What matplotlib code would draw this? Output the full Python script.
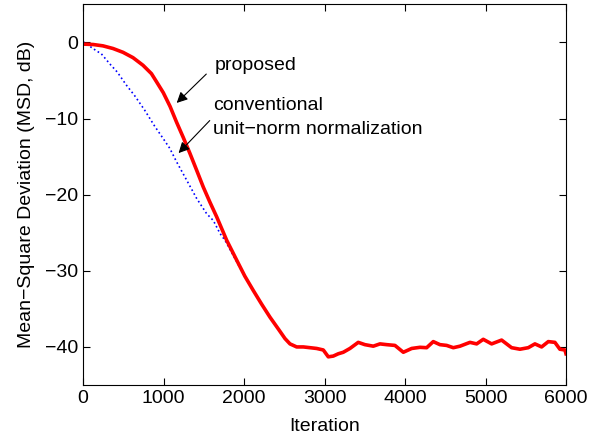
import matplotlib
matplotlib.use("Agg")
import matplotlib.pyplot as plt

plt.rcParams['font.family'] = ['Liberation Sans', 'DejaVu Sans']
plt.rcParams['axes.unicode_minus'] = True

# proposed method (red, thick)
prop_x = [0, 124, 248, 373, 497, 621, 745, 850, 915, 997, 1081, 1163, 1246,
          1329, 1412, 1494, 1577, 1660, 1785, 1909, 2010, 2116, 2220, 2323,
          2430, 2509, 2571, 2654, 2737, 2820, 2902, 2985, 3047, 3109, 3171,
          3233, 3316, 3419, 3502, 3606, 3689, 3772, 3875, 3979, 4083, 4186,
          4269, 4351, 4434, 4517, 4600, 4683, 4807, 4890, 4972, 5076, 5200,
          5324, 5428, 5531, 5614, 5697, 5780, 5862, 5924, 5987, 6000]
prop_y = [-0.22, -0.27, -0.45, -0.8, -1.3, -2.0, -3.0, -4.1, -5.2, -6.6,
          -8.4, -10.5, -12.5, -14.6, -16.8, -19.0, -21.0, -22.9, -26.0,
          -28.6, -30.7, -32.6, -34.4, -36.1, -37.7, -38.9, -39.6, -40.0,
          -40.0, -40.1, -40.2, -40.4, -41.3, -41.2, -40.9, -40.7, -40.2,
          -39.4, -39.7, -39.9, -39.6, -39.7, -39.8, -40.7, -40.2, -40.05,
          -40.1, -39.3, -39.7, -39.8, -40.1, -39.9, -39.4, -39.6, -39.0,
          -39.6, -39.1, -40.1, -40.3, -40.1, -39.6, -40.0, -39.3, -39.4,
          -40.3, -40.4, -40.9]

# conventional unit-norm normalization (blue, dotted)
conv_x = [0, 166, 228, 331, 426, 538, 642, 766, 890, 994, 1077, 1163, 1288,
          1412, 1536, 1619, 1702, 1764, 1950, 2100]
conv_y = [0.1, -1.1, -1.5, -2.8, -3.9, -5.6, -7.0, -8.9, -11.0, -12.6, -13.9,
          -15.7, -18.1, -20.5, -22.5, -23.4, -25.1, -26.0, -29.6, -32.3]

x_ticks = [0, 1000, 2000, 3000, 4000, 5000, 6000]
y_ticks = [0, -10, -20, -30, -40]

fig = plt.figure(figsize=(6.06, 4.37), dpi=100)
ax = fig.add_axes([0.137, 0.119, 0.797, 0.871])

ax.plot(conv_x, conv_y, color='blue', linestyle=':', linewidth=1.2)
ax.plot(prop_x, prop_y, color='red', linewidth=2.6)

ax.set_xlim(0, 6000)
ax.set_ylim(-45, 5)
ax.set_xticks(x_ticks)
ax.set_yticks(y_ticks)
ax.tick_params(direction='in', top=True, right=True, labelsize=14, length=5,
               width=0.8)
for s in ax.spines.values():
    s.set_linewidth(0.8)

ax.set_xlabel('Iteration', fontsize=14, labelpad=8)
ax.set_ylabel('Mean\u2212Square Deviation (MSD, dB)', fontsize=14, labelpad=7)

arrow = dict(arrowstyle='-|>', color='black', lw=0.8, mutation_scale=16)
ax.annotate('', xy=(1139, -8.2), xytext=(1556, -3.9), arrowprops=arrow)
ax.annotate('', xy=(1163, -14.8), xytext=(1598, -10.0), arrowprops=arrow)

ax.text(1640, -3.0, 'proposed', fontsize=14, ha='left', va='center')
ax.text(1615, -8.3, 'conventional', fontsize=14, ha='left', va='center')
ax.text(1615, -11.5, 'unit\u2212norm normalization', fontsize=14, ha='left',
        va='center')

fig.savefig('out.png', dpi=100)
